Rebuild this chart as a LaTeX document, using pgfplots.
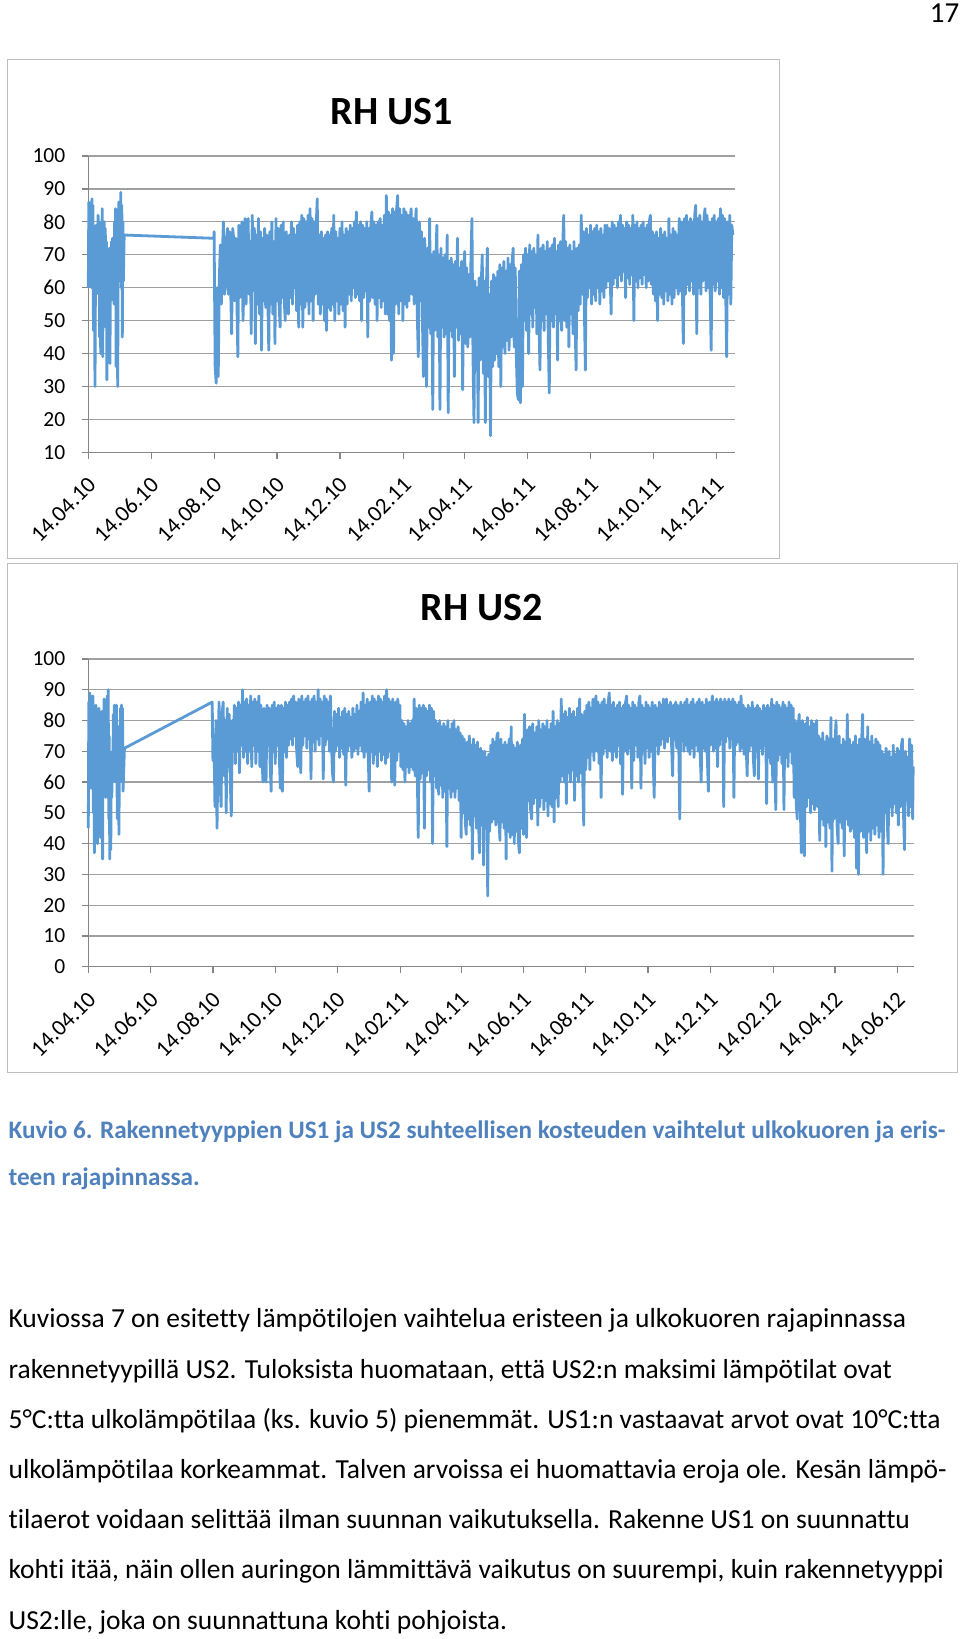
\documentclass[border=0pt]{standalone}
\usepackage{pgfplots}
\pgfplotsset{compat=1.18}
\usepackage{fontspec}
\setmainfont{Carlito}[Ligatures=NoCommon]
\definecolor{rhblue}{RGB}{91,155,213}
\definecolor{gridgray}{RGB}{160,160,160}
\definecolor{axisgray}{RGB}{134,134,134}
\definecolor{framegray}{RGB}{191,191,191}
\definecolor{capblue}{RGB}{79,129,189}
\pgfplotsset{
  rhaxis/.style={
    scale only axis, anchor=south west,
    axis lines*=left,
    axis line style={axisgray, line width=1.2pt},
    tick style={axisgray, line width=1.2pt},
    tick align=outside, major tick length=6.5pt,
    ymajorgrids, major grid style={gridgray, line width=1.2pt},
    /pgf/number format/assume math mode=true,
    yticklabel style={font=\fontsize{21.5}{24}\selectfont, text=black, xshift=-13pt},
    xticklabel style={font=\fontsize{22.8}{26}\selectfont, text=black, xshift=6pt, yshift=-20pt, rotate=45, anchor=east},
    clip=false,
  }
}
\begin{document}
\begin{tikzpicture}[x=1pt,y=1pt]
\path[use as bounding box] (0,0) rectangle (960,1639);
\fill[white] (0,0) rectangle (960,1639);
\draw[framegray, line width=1pt] (7.3,1080) rectangle (779,1579);
\draw[framegray, line width=1pt] (7.3,566) rectangle (957,1075);
\node[anchor=base east, inner sep=0, font=\fontsize{29}{34}\selectfont] at (959.5,1616.5) {17};
\node[anchor=base, inner sep=0, font=\fontsize{40}{48}\selectfont\bfseries] at (392,1514) {RH US1};
\node[anchor=base, inner sep=0, font=\fontsize{40}{48}\selectfont\bfseries] at (482,1018) {RH US2};

\begin{axis}[rhaxis, at={(88.3pt,1186.7pt)}, width=646.6pt, height=296.3pt,
  xmin=0, xmax=627, ymin=10, ymax=100, ytick={10,20,30,40,50,60,70,80,90,100},
  xtick={0,61,122,183,244,306,365,426,487,548,609},
  xticklabels={14.04.10,14.06.10,14.08.10,14.10.10,14.12.10,14.02.11,14.04.11,14.06.11,14.08.11,14.10.11,14.12.11}]
\addplot[rhblue, line width=2.8pt, line join=round, mark=none] coordinates {
(0,60)(0.5,86)(1,62)(1.5,85)(2,70)(2.5,80)(3,60)(3.5,87)(4,72)(4.5,85)(5,47)(5.5,78)(6,55)(6.5,30)(7,66)(7.5,79)(8,58)(8.5,76)(9,68)(9.5,82)(10,60)(10.5,80)(11,45)(11.5,78)(12,40)(12.5,72)(13,62)(13.5,84)(14,39)(14.5,75)(15,55)(15.5,80)(16,60)(16.5,78)(17,48)(17.5,74)(18,32)(18.5,70)(19,45)(19.5,65)(20,50)(20.5,72)(21,37)(21.5,68)(22,56)(22.5,74)(23,60)(23.5,75)(24,62)(24.5,73)(25,55)(25.5,80)(26,66)(26.5,84)(27,36)(27.5,78)(28,60)(28.5,30)(29,70)(29.5,86)(30,64)(30.5,85)(31,72)(31.5,89)(32,60)(32.5,85)(33,45)(33.5,80)(34,62)(34.8,76)
(121.7,75)(122,77)(123,36)(124,31)(125,60)(126,33)(127,62)(128,73)(129,55)(130,70)
(131,80)(132,58)(133,60)(134,75)(135,78)(136,58)(137,77)(138,60)(139,46)(140,78)
(141,75)(142,56)(143,75)(144,58)(145,39)(146,79)(147,57)(148,72)(149,80)(150,50)
(151,62)(152,81)(153,55)(154,76)(155,81)(156,58)(157,74)(158,46)(159,82)(160,60)
(161,78)(162,43)(163,76)(164,55)(165,81)(166,52)(167,77)(168,41)(169,75)(170,56)
(171,78)(172,54)(173,76)(174,58)(175,41)(176,77)(177,55)(178,80)(179,52)(180,74)
(181,43)(182,81)(183,56)(184,78)(185,55)(186,48)(187,79)(188,57)(189,80)(190,56)
(191,50)(192,77)(193,58)(194,52)(195,76)(196,57)(197,80)(198,55)(199,78)(200,60)(201,76)(202,53)(203,79)
(204,48)(205,80)(206,55)(207,82)(208,48)(209,81)(210,54)(211,80)(212,56)(213,82)(214,52)(215,84)(216,56)(217,81)(218,50)(219,80)(220,58)(221,79)(222,87)(223,55)
(224,76)(225,52)(226,77)(227,55)(228,75)(229,50)(230,76)(231,47)(232,77)(233,54)(234,76)(235,53)(236,78)(237,55)(238,82)(239,50)(240,77)(241,56)(242,75)(243,52)(244,78)(245,55)(246,80)(247,53)(248,76)(249,48)(250,78)(251,55)(252,77)
(253,58)(254,79)(255,56)(256,78)(257,60)(258,80)(259,57)(260,83)(261,58)(262,79)(263,56)(264,80)(265,50)(266,79)(267,57)(268,78)(269,59)(270,80)(271,45)(272,78)(273,56)(274,79)(275,83)(276,57)(277,80)(278,55)(279,79)(280,50)(281,80)(282,57)(283,81)(284,54)(285,79)(286,56)(287,82)(288,52)
(289,88)(290,52)(291,83)(292,50)(293,82)(294,38)(295,84)(296,40)(297,83)(298,55)(299,84)(300,88)
(301,52)(302,84)(303,56)(304,82)(305,50)(306,84)(307,55)(308,83)(309,54)(310,82)
(311,56)(312,80)(313,84)(314,58)(315,81)(316,55)(317,79)(318,84)(319,52)(320,39)(321,80)(322,56)(323,77)(324,50)(325,33)(326,75)
(327,70)(328,30)(329,72)(330,48)(331,81)(332,46)(333,70)(334,23)(335,71)(336,47)(337,68)(338,79)(339,45)(340,70)(341,23)(342,72)(343,48)(344,69)(345,45)(346,70)
(347,46)(348,76)(349,22)(350,68)
(351,47)(352,69)(353,45)(354,67)(355,33)(356,68)(357,48)(358,75)(359,44)(360,66)(361,46)(362,68)(363,29)(364,65)(365,71)(366,43)(367,66)(368,42)(369,64)(370,45)(371,68)(372,81)
(373,40)(374,19)(375,62)(376,35)(377,60)(378,19)(379,63)(380,38)(381,61)(382,70)(383,34)(384,62)(385,19)(386,60)(387,72)(388,33)(389,58)(390,15)(391,62)(392,36)(393,64)(394,38)(395,63)(396,40)(397,65)(398,36)
(399,67)(400,30)(401,66)(402,42)(403,68)(404,40)(405,65)(406,44)(407,69)(408,41)(409,67)(410,45)(411,68)(412,72)(413,42)(414,66)(415,40)(416,28)(417,26)(418,65)(419,25)(420,67)(421,30)
(422,70)(423,50)(424,72)(425,47)(426,70)(427,40)(428,73)(429,52)(430,71)(431,48)(432,72)(433,54)(434,70)(435,46)(436,76)(437,50)(438,35)
(439,72)(440,50)(441,73)(442,47)(443,71)(444,52)(445,74)(446,45)(447,28)(448,72)(449,50)(450,73)(451,48)(452,75)(453,52)(454,71)(455,38)(456,73)(457,50)(458,74)(459,47)(460,72)(461,82)(462,50)(463,74)(464,48)(465,72)(466,42)(467,73)(468,52)(469,71)(470,46)(471,74)(472,50)(473,35)(474,72)(475,53)(476,73)
(477,55)(478,82)(479,58)(480,77)(481,54)(482,35)(483,78)(484,57)(485,76)(486,60)(487,79)(488,55)(489,77)(490,58)(491,78)(492,56)(493,79)(494,60)(495,77)(496,55)(497,78)(498,59)(499,76)(500,57)(501,79)(502,60)
(503,79)(504,62)(505,78)(506,64)(507,52)(508,80)(509,61)(510,79)(511,63)(512,78)(513,60)(514,80)(515,64)(516,82)(517,62)(518,79)(519,65)(520,78)(521,57)(522,80)(523,63)(524,79)(525,61)(526,78)(527,64)(528,82)(529,50)(530,79)(531,62)(532,80)(533,60)(534,78)(535,63)(536,79)(537,61)(538,80)(539,64)(540,78)(541,60)(542,79)(543,62)(544,80)(545,82)(546,61)(547,77)
(548,58)(549,76)(550,56)(551,77)(552,50)(553,75)(554,58)(555,78)(556,57)(557,76)(558,55)(559,77)(560,59)(561,75)(562,56)(563,81)(564,58)(565,76)(566,55)(567,78)(568,57)(569,77)(570,60)(571,76)(572,58)(573,81)
(574,59)(575,80)(576,60)(577,43)(578,81)(579,58)(580,82)(581,61)(582,80)(583,59)(584,81)(585,62)(586,80)(587,58)(588,82)(589,85)(590,46)(591,81)(592,60)(593,82)(594,58)(595,80)(596,62)(597,81)(598,84)(599,59)(600,82)(601,60)(602,80)(603,58)(604,41)(605,81)(606,61)(607,82)(608,59)(609,80)(610,62)(611,81)(612,58)(613,84)(614,60)(615,82)(616,57)(617,81)(618,60)(619,39)(620,80)(621,58)(622,82)(623,55)(624,79)(625,76)
};
\end{axis}

\begin{axis}[rhaxis, at={(88.3pt,672.3pt)}, width=825.9pt, height=307.7pt,
  xmin=0, xmax=808.5, ymin=0, ymax=100, ytick={0,10,20,30,40,50,60,70,80,90,100},
  xtick={0,61,122,183,244,306,365,426,487,548,609,671,731,792},
  xticklabels={14.04.10,14.06.10,14.08.10,14.10.10,14.12.10,14.02.11,14.04.11,14.06.11,14.08.11,14.10.11,14.12.11,14.02.12,14.04.12,14.06.12}]
\addplot[rhblue, line width=2.8pt, line join=round, mark=none] coordinates {
(0,45)(0.5,86)(1,60)(1.5,89)(2,62)(2.5,88)(3,58)(3.5,86)(4,65)(4.5,88)(5,50)(5.5,84)(6,37)(6.5,80)(7,55)(7.5,85)(8,48)(8.5,82)(9,40)(9.5,80)(10,60)(10.5,84)(11,55)(11.5,82)(12,42)(12.5,78)(13,50)(13.5,83)(14,35)(14.5,76)(15,60)(15.5,87)(16,58)(16.5,85)(17,55)(17.5,80)(18,65)(18.5,88)(19,60)(19.5,90)(20,48)(20.5,75)(21,35)(21.5,68)(22,38)(22.5,65)(23,55)(23.5,70)(24,60)(24.5,82)(25,62)(25.5,85)(26,66)(26.5,84)(27,60)(27.5,85)(28,62)(28.5,48)(29,70)(29.5,78)(30,43)(30.5,72)(31,60)(31.5,84)(32,65)(32.5,85)(33,62)(33.5,84)(34,57)(35.4,71)
(121.3,86)(122,67)(123,75)(124,52)(125,80)(126,45)(127,70)(128,86)(129,60)(130,52)(131,82)(132,86)(133,62)(134,80)(135,50)(136,84)(137,65)(138,82)(139,60)(140,49)(141,80)(142,70)(143,85)(144,66)(145,84)(146,70)(147,86)(148,63)(149,85)(150,72)(151,90)(152,68)(153,86)(154,70)
(155,87)(156,66)(157,85)(158,70)(159,88)(160,65)(161,86)(162,72)(163,87)(164,66)(165,86)(166,70)(167,88)(168,65)
(169,85)(170,68)(171,60)(172,84)(173,70)(174,60)(175,85)(176,72)(177,84)(178,66)(179,57)(180,85)
(181,70)(182,86)(183,66)(184,84)(185,72)(186,85)(187,68)(188,58)(189,85)(190,57)(191,84)(192,70)(193,86)(194,68)(195,85)(196,72)
(197,86)(198,74)(199,87)(200,72)(201,88)(202,75)(203,86)(204,70)(205,65)(206,87)(207,73)(208,63)(209,88)(210,72)(211,86)(212,75)(213,87)(214,71)(215,88)(216,74)(217,86)(218,61)(219,87)(220,73)(221,88)(222,70)(223,86)(224,74)(225,90)(226,72)(227,87)(228,75)(229,86)(230,61)(231,88)(232,72)(233,87)(234,74)(235,86)(236,70)(237,88)(238,73)(239,63)
(240,60)(241,83)(242,70)(243,82)(244,72)(245,84)(246,68)(247,81)(248,71)(249,83)(250,69)(251,84)(252,59)(253,82)(254,70)(255,83)(256,72)(257,81)(258,68)(259,84)(260,70)(261,82)(262,71)(263,85)(264,69)(265,83)(266,72)(267,86)(268,70)(269,89)(270,68)(271,85)(272,70)
(273,87)(274,68)(275,57)(276,86)(277,70)(278,88)(279,66)(280,87)(281,69)(282,86)(283,65)(284,88)(285,70)(286,87)(287,67)(288,86)(289,69)(290,88)(291,66)(292,90)(293,68)(294,87)(295,70)(296,86)(297,60)(298,87)(299,68)(300,59)(301,86)(302,67)(303,87)(304,70)(305,85)
(306,65)(307,80)(308,64)(309,79)(310,60)(311,78)(312,65)(313,80)(314,63)(315,79)(316,65)(317,80)(318,64)
(319,87)(320,62)(321,84)(322,64)(323,42)(324,85)(325,61)(326,84)(327,63)(328,85)(329,45)(330,84)(331,62)(332,83)(333,64)(334,85)(335,60)(336,84)(337,40)(338,83)(339,62)(340,80)
(341,58)(342,79)(343,56)(344,80)(345,59)(346,78)(347,55)(348,79)(349,57)(350,78)(351,39)(352,80)(353,58)(354,77)(355,55)(356,79)(357,57)(358,80)(359,55)(360,77)(361,58)(362,78)(363,54)(364,76)(365,42)(366,75)
(367,50)(368,74)(369,47)(370,43)(371,73)(372,48)(373,75)(374,46)(375,72)(376,35)(377,74)(378,49)(379,72)(380,45)(381,73)(382,47)(383,37)(384,71)(385,46)(386,70)
(387,33)(388,70)(389,45)(390,68)(391,23)(392,69)(393,44)
(394,72)(395,47)(396,74)(397,48)(398,73)(399,46)(400,75)(401,76)(402,48)(403,41)(404,74)(405,47)(406,72)(407,45)(408,73)(409,35)(410,72)(411,44)(412,74)
(413,42)(414,78)(415,43)(416,72)(417,40)(418,71)(419,44)(420,73)(421,41)(422,37)(423,72)(424,45)(425,74)(426,43)
(427,82)(428,52)(429,42)(430,77)(431,54)(432,78)(433,51)(434,48)(435,79)(436,53)(437,76)(438,55)(439,78)(440,46)(441,80)(442,52)(443,77)(444,55)(445,79)(446,51)(447,78)(448,54)(449,80)(450,49)(451,77)(452,53)(453,79)(454,52)(455,83)(456,47)(457,78)(458,55)(459,80)(460,52)(461,79)
(462,60)(463,87)(464,62)(465,82)(466,60)(467,83)(468,53)(469,81)(470,63)(471,84)(472,60)(473,82)(474,64)(475,83)(476,54)(477,81)(478,62)(479,84)(480,60)(481,87)(482,63)(483,82)(484,61)(485,46)(486,83)(487,64)
(488,85)(489,68)(490,86)(491,64)(492,84)(493,70)(494,87)(495,67)(496,85)(497,88)(498,70)(499,86)(500,66)(501,85)(502,55)(503,86)(504,69)(505,87)(506,71)(507,85)(508,68)(509,86)(510,89)(511,70)(512,85)(513,67)
(514,86)(515,70)(516,84)(517,68)(518,85)(519,72)(520,86)(521,66)(522,84)(523,56)(524,85)(525,70)(526,86)(527,88)(528,69)(529,85)(530,71)(531,84)(532,58)(533,86)(534,67)(535,85)(536,72)(537,84)(538,68)(539,86)(540,88)(541,58)(542,85)(543,70)(544,84)(545,66)(546,86)(547,71)(548,85)(549,68)(550,84)(551,70)(552,86)(553,67)(554,55)(555,85)(556,72)(557,84)(558,69)(559,86)
(560,72)(561,85)(562,74)(563,87)(564,71)(565,86)(566,87)(567,73)(568,85)(569,75)(570,86)(571,72)(572,62)(573,85)(574,74)(575,86)(576,71)(577,85)(578,73)(579,48)(580,86)(581,74)(582,85)(583,70)(584,86)(585,72)
(586,87)(587,70)(588,85)(589,69)(590,86)(591,71)(592,87)(593,68)(594,85)(595,72)(596,86)(597,70)(598,87)(599,69)(600,60)(601,86)(602,71)(603,85)(604,70)(605,87)(606,68)(607,57)(608,86)(609,72)(610,85)(611,88)(612,70)(613,86)(614,71)(615,87)(616,65)(617,86)
(618,72)(619,87)(620,74)(621,86)(622,52)(623,87)(624,73)(625,86)(626,75)(627,87)(628,71)(629,86)(630,74)(631,87)(632,55)(633,86)(634,72)(635,85)(636,73)
(637,86)(638,70)(639,88)(640,71)(641,85)(642,69)(643,84)(644,72)(645,62)(646,85)(647,70)(648,84)(649,72)(650,86)(651,68)(652,62)(653,84)(654,70)(655,85)(656,61)(657,84)(658,71)(659,83)(660,69)(661,85)(662,72)
(663,84)(664,53)(665,85)(666,68)(667,84)(668,66)(669,87)(670,60)(671,85)(672,68)(673,51)(674,86)(675,67)(676,85)(677,69)(678,84)(679,66)(680,86)(681,51)(682,85)(683,68)(684,84)(685,65)(686,86)(687,70)(688,85)(689,66)(690,84)
(691,55)(692,80)(693,53)(694,48)(695,79)(696,82)(697,52)(698,37)(699,80)(700,54)(701,36)(702,79)(703,52)(704,81)(705,55)(706,78)(707,50)(708,80)(709,53)(710,79)(711,51)(712,78)(713,80)(714,52)
(715,75)(716,41)(717,74)(718,48)(719,76)(720,46)(721,73)(722,39)(723,75)(724,47)(725,74)(726,45)(727,81)(728,31)(729,74)(730,48)(731,73)(732,80)(733,46)(734,40)(735,75)(736,47)(737,72)(738,45)(739,74)(740,36)(741,73)(742,48)(743,82)(744,46)(745,74)(746,44)(747,72)
(748,45)(749,73)(750,42)(751,75)(752,32)(753,72)(754,30)(755,74)(756,44)(757,73)(758,82)(759,42)(760,74)(761,46)(762,37)(763,78)(764,44)(765,73)(766,41)(767,75)(768,45)(769,72)(770,43)(771,74)(772,46)(773,73)(774,42)(775,72)(776,44)(777,70)
(778,30)(779,69)(780,50)(781,71)(782,48)(783,40)(784,70)(785,52)(786,68)(787,49)(788,72)(789,53)(790,69)(791,50)(792,71)(793,46)(794,70)(795,52)(796,72)(797,74)(798,50)(799,38)(800,70)(801,54)(802,68)(803,49)(804,74)(805,52)(806,72)(807,48)(807.5,65)
};
\end{axis}

\begin{scope}[every node/.style={anchor=base west, inner sep=0}]
\node[font=\fontsize{25.2}{30}\selectfont\bfseries, text=capblue] at (8.4,500.5) {Kuvio 6. Rakennetyyppien US1 ja US2 suhteellisen kosteuden vaihtelut ulkokuoren ja eris-};
\node[font=\fontsize{25.2}{30}\selectfont\bfseries, text=capblue] at (8.4,453) {teen rajapinnassa.};
\node[font=\fontsize{27.5}{33}\selectfont] at (8.4,311) {Kuviossa 7 on esitetty lämpötilojen vaihtelua eristeen ja ulkokuoren rajapinnassa};
\node[font=\fontsize{27.5}{33}\selectfont] at (8.4,260.8) {rakennetyypillä US2. Tuloksista huomataan, että US2:n maksimi lämpötilat ovat};
\node[font=\fontsize{27.5}{33}\selectfont] at (8.4,210.6) {5°C:tta ulkolämpötilaa (ks. kuvio 5) pienemmät. US1:n vastaavat arvot ovat 10°C:tta};
\node[font=\fontsize{27.5}{33}\selectfont] at (8.4,160.4) {ulkolämpötilaa korkeammat. Talven arvoissa ei huomattavia eroja ole. Kesän lämpö-};
\node[font=\fontsize{27.5}{33}\selectfont] at (8.4,110.2) {tilaerot voidaan selittää ilman suunnan vaikutuksella. Rakenne US1 on suunnattu};
\node[font=\fontsize{27.5}{33}\selectfont] at (8.4,60) {kohti itää, näin ollen auringon lämmittävä vaikutus on suurempi, kuin rakennetyyppi};
\node[font=\fontsize{27.5}{33}\selectfont] at (8.4,9.8) {US2:lle, joka on suunnattuna kohti pohjoista.};
\end{scope}
\end{tikzpicture}
\end{document}
